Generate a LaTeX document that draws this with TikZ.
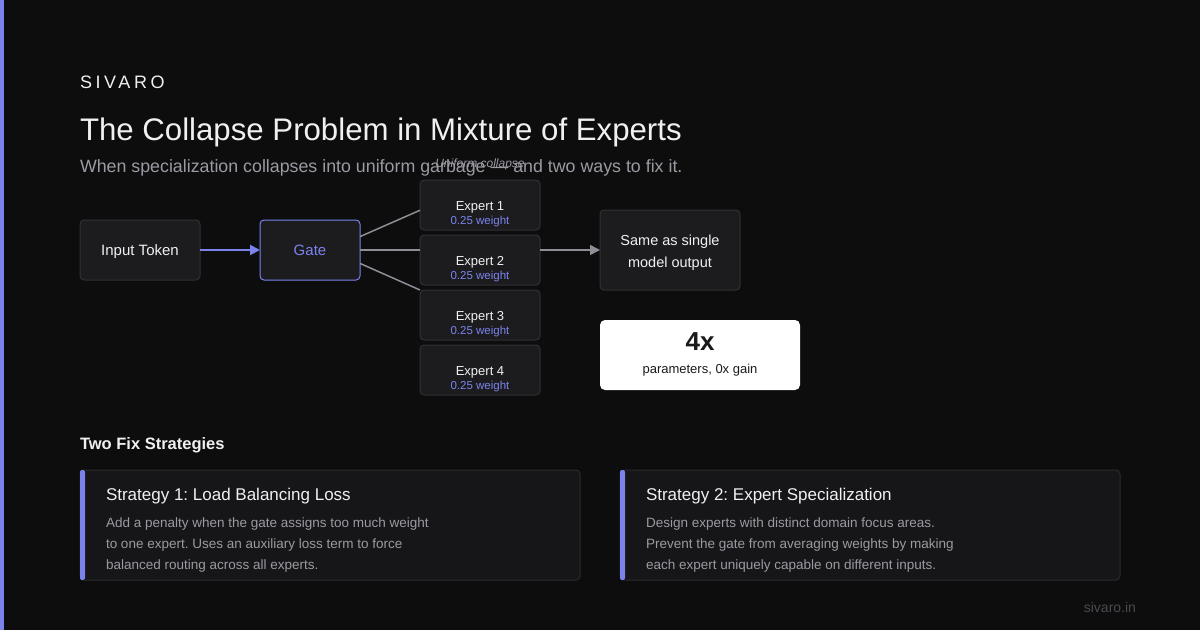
\documentclass[tikz,border=0pt]{standalone}
\usepackage{fontspec}
\setmainfont{Liberation Sans}
\usepackage{xcolor}
\usepackage{tikz}
\usetikzlibrary{arrows.meta,positioning}
\definecolor{bg}{HTML}{0D0D0E}
\definecolor{accent}{HTML}{7B83EB}
\definecolor{boxfill}{HTML}{1C1C1F}
\definecolor{boxline}{HTML}{313135}
\definecolor{cardfill}{HTML}{161618}
\definecolor{cardline}{HTML}{2A2A2E}
\definecolor{muted}{HTML}{9A9AA2}
\definecolor{wire}{HTML}{8E8E96}
\definecolor{faint}{HTML}{4A4A50}
\definecolor{ink}{HTML}{F0F0F2}
\definecolor{dark}{HTML}{1A1A1C}
\newcommand{\fsz}[2]{\fontsize{#1}{#2}\selectfont}
\frenchspacing

\begin{document}
\begin{tikzpicture}[x=1pt,y=-1pt,
  every node/.style={text=ink,inner sep=0pt,outer sep=0pt},
  box/.style={draw=boxline,fill=boxfill,line width=1pt,rounded corners=4pt,
    minimum width=120pt,minimum height=60pt,font=\fsz{15}{18},
    text height=11pt,text depth=0pt},
  expert/.style={box,minimum height=50pt},
  ename/.style={anchor=base,font=\fsz{13}{15}},
  wname/.style={anchor=base,font=\fsz{11.5}{13},text=accent},
  txt/.style={anchor=base west},
  card/.style={draw=cardline,fill=cardfill,line width=1pt,rounded corners=4pt,
    minimum width=500pt,minimum height=110pt},
  ctitle/.style={txt,font=\fsz{17}{20}},
  cbody/.style={anchor=north west,align=left,font=\fsz{13.5}{21},text=muted},
  wirel/.style={draw=wire,line width=1.5pt}
]
  % backdrop
  \fill[bg] (0,0) rectangle (1200,630);
  \fill[accent] (0,0) rectangle (4,630);

  % heading
  \node[txt,font=\fsz{18}{20}\addfontfeature{LetterSpace=20}] (brand) at (80,88) {SIVARO};
  \node[txt,font=\fsz{31.2}{36}] (title) at (80,140) {The Collapse Problem in Mixture of Experts};
  \node[txt,font=\fsz{17.8}{20},text=muted] (sub) at (80,172)
    {When specialization collapses into uniform garbage — and two ways to fix it.};
  \node[anchor=base,font=\fsz{12}{14}\itshape,text=muted] (tag) at (480,167) {Uniform collapse};

  % routing
  \node[box] (tok) at (140,250) {Input Token};
  \node[box,draw=accent,minimum width=100pt,text=accent] (gate) at (310,250) {Gate};
  \draw[accent,line width=2pt,-{Triangle[length=10pt,width=10pt]}] (tok) -- (gate);

  \foreach \i/\y in {1/205,2/260,3/315,4/370}{
    \node[expert] (e\i) at (480,\y) {};
    \node[ename] (e\i n) at (480,\y+5) {Expert \i};
    \node[wname] (e\i w) at (480,\y+19) {0.25 weight};
  }
  \draw[wirel] (gate.15) -- (e1.185);
  \draw[wirel] (gate.east) -- (e2.west |- gate.east);
  \draw[wirel] (gate.-15) -- (e3.north west);

  \node[box,minimum width=140pt,minimum height=80pt] (out) at (670,250) {};
  \node[align=center,font=\fsz{14.5}{22}] (outt) at (670,253) {Same as single\\model output};
  \draw[wire,line width=1.5pt,-{Triangle[length=10pt,width=10pt]}] (e2.east |- out.west) -- (out.west);

  \node[fill=white,rounded corners=5pt,minimum width=200pt,minimum height=70pt] (gain) at (700,355) {};
  \node[anchor=base,font=\fsz{26}{28}\bfseries,text=dark] (gainv) at (700,350) {4x};
  \node[anchor=base,font=\fsz{13}{15},text=dark] (gaint) at (700,373) {parameters, 0x gain};

  % fixes
  \node[txt,font=\fsz{16.5}{20}\bfseries] (fixes) at (80,449) {Two Fix Strategies};

  \node[card] (c1) at (330,525) {};
  \fill[accent,rounded corners=2pt] (c1.north west) rectangle ([xshift=5pt]c1.south west);
  \node[ctitle] (c1t) at (106,500) {Strategy 1: Load Balancing Loss};
  \node[cbody] (c1b) at (106,517.5) {Add a penalty when the gate assigns too much weight\\
    to one expert. Uses an auxiliary loss term to force\\balanced routing across all experts.};

  \node[card] (c2) at (870,525) {};
  \fill[accent,rounded corners=2pt] (c2.north west) rectangle ([xshift=5pt]c2.south west);
  \node[ctitle] (c2t) at (646,500) {Strategy 2: Expert Specialization};
  \node[cbody] (c2b) at (646,517.5) {Design experts with distinct domain focus areas.\\
    Prevent the gate from averaging weights by making\\each expert uniquely capable on different inputs.};

  \node[anchor=base east,font=\fsz{14}{16},text=faint] (site) at (1136,612) {sivaro.in};
\end{tikzpicture}
\end{document}
